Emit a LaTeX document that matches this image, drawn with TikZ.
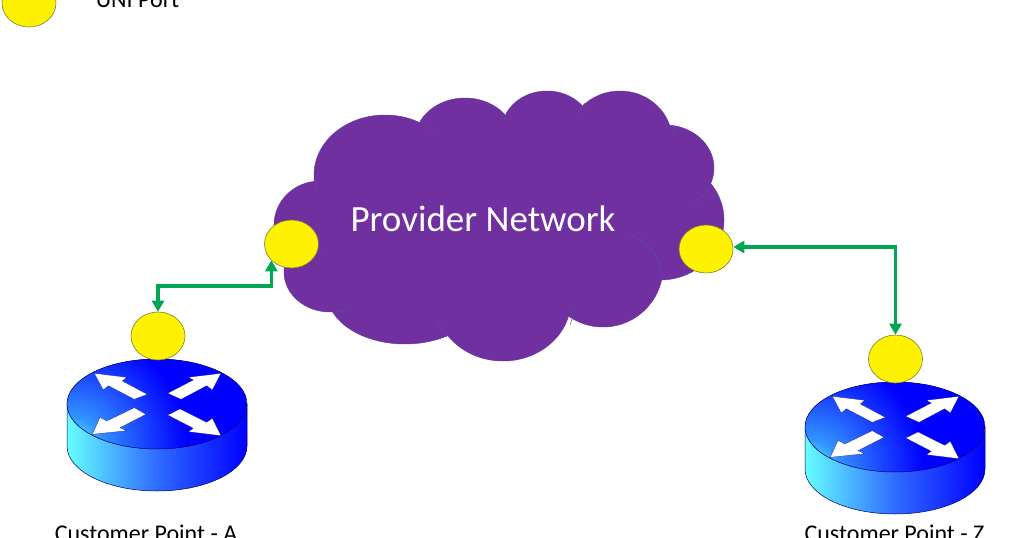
\documentclass[tikz,border=0pt]{standalone}
\usepackage{fontspec}
\setmainfont{Carlito}
\usetikzlibrary{shapes.geometric,arrows.meta}
\definecolor{cloudc}{HTML}{7030A0}
\definecolor{cloudl}{HTML}{5A4FA8}
\definecolor{linkc}{HTML}{00A651}
\definecolor{sidec}{HTML}{66FFFF}
\definecolor{sidem}{HTML}{2F6BFF}
\definecolor{portl}{HTML}{7F7F30}
\definecolor{topa}{HTML}{3394FF}
\definecolor{topb}{HTML}{1A45FF}
\pgfdeclareradialshading{routertop}{\pgfpointorigin}{color(0bp)=(sidec); color(4.5bp)=(topa); color(12bp)=(topb); color(19bp)=(blue); color(50bp)=(blue)}
\tikzset{
 port/.style={ellipse,draw=portl,line width=0.6pt,fill=yellow,minimum width=54pt,minimum height=48pt,inner sep=0pt},
 link/.style={draw=linkc,line width=3.3pt,{Triangle[length=11pt,width=12pt]}-{Triangle[length=11pt,width=12pt]}},
 cloudline/.style={draw=cloudl,line width=0.5pt},
 rimline/.style={draw=black!60!blue,line width=0.5pt},
 whitearrow/.style={fill=white,draw=black!50!blue,line width=0.2pt},
 plabel/.style={font=\fontsize{24}{28}\selectfont,text=black,anchor=base,inner sep=0pt}
}
\newcommand{\routerdraw}{%
 \shade[left color=sidec,right color=blue,middle color=sidem] (-90,0) -- (-90,42) arc[start angle=180,end angle=0,x radius=90,y radius=45] -- (90,0) arc[start angle=0,end angle=180,x radius=90,y radius=45] -- cycle;
 \draw[rimline] (-90,0) -- (-90,42) arc[start angle=180,end angle=0,x radius=90,y radius=45] -- (90,0);
 \begin{scope}
 \clip (0,0) ellipse[x radius=90,y radius=45];
 \fill[blue] (-90,-45) rectangle (90,45);
 \shade[shading=routertop] (-85,40) circle[radius=150];
 \end{scope}
 \draw[rimline] (0,0) ellipse[x radius=90,y radius=45];
 \path[whitearrow] (-62.7,-30.7) -- (-30.3,-26.7) -- (-34.7,-23) -- (-9.7,-9.7) -- (-22.7,-4.7) -- (-48.7,-18.3) -- (-53.7,-14) -- cycle;
 \path[whitearrow] (64,-30.7) -- (55.3,-14) -- (49.7,-18.3) -- (24,-4.7) -- (10.7,-10.7) -- (36.3,-24) -- (31.3,-26.7) -- cycle;
 \path[whitearrow] (-64.7,30.3) -- (-57,13.3) -- (-50.3,17) -- (-22.7,3.7) -- (-11,10.3) -- (-37,23.7) -- (-30.3,26.7) -- cycle;
 \path[whitearrow] (64,31.7) -- (55.3,14.3) -- (49.7,18.3) -- (23,5) -- (10.7,11) -- (36.3,24.3) -- (31.3,27.7) -- cycle;
}
\begin{document}
\begin{tikzpicture}[x=1pt,y=-1pt]
\useasboundingbox (0,0) rectangle (1023,538);
\clip (0,0) rectangle (1023,538);
% cloud
\foreach \cx/\cy/\rx/\ry in {385/175/71/60,465/140/50/42,547/130/45/39,620/140/52/49,665/168/49/43,660/220/64/60,603/267/60/60,503/300/68/61,405/293/78/51,330/272/46/40,320/225/46/44}{
 \draw[cloudline] (\cx,\cy) ellipse[x radius=\rx,y radius=\ry];
}
\foreach \cx/\cy/\rx/\ry in {385/175/71/60,465/140/50/42,547/130/45/39,620/140/52/49,665/168/49/43,660/220/64/60,603/267/60/60,503/300/68/61,405/293/78/51,330/272/46/40,320/225/46/44,490/220/175/95}{
 \fill[cloudc] (\cx,\cy) ellipse[x radius=\rx,y radius=\ry];
}
% seams inside the cloud
\draw[cloudline] (422,122) to[bend left=8] (433,132);
\draw[cloudline] (507,112) to[bend right=5] (504,120);
\draw[cloudline] (585,103) to[bend right=5] (577,115);
\draw[cloudline] (673,125) -- (674,133);
\draw[cloudline] (710,187) to[bend left=10] (693,203);
\draw[cloudline] (315,181) to[bend right=10] (318,190);
\draw[cloudline] (318,253) -- (324,254);
\draw[cloudline] (627,233) to[bend left=30] (663,277);
\draw[cloudline] (574,307) to[bend left=8] (570,325);
\draw[cloudline] (438,322) to[bend right=10] (447,337);
\draw[cloudline] (350,308) to[bend left=8] (335,312);
% routers
\begin{scope}[shift={(157,404)}]\routerdraw\end{scope}
\begin{scope}[shift={(895,427)}]\routerdraw\end{scope}
% ports
\node[port] (portLegend) at (29,3) {};
\node[port] (portLeft) at (291.5,244) {};
\node[port] (portRight) at (706,249) {};
\node[port] (portA) at (158,336) {};
\node[port] (portZ) at (895.5,359) {};
\coordinate (bendA) at (215,286);
\coordinate (bendZ) at (895.5,247);
\draw[link] (portLeft.219) |- (bendA) -| (portA.north);
\draw[link] (portRight.east |- bendZ) -- (bendZ) -- (portZ.north);
% labels
\node[font=\fontsize{37}{42}\selectfont,text=white,anchor=base,inner sep=0pt] (title) at (483,231) {Provider Network};
\node[plabel] (labelA) at (146,541) {Customer Point - A};
\node[plabel] (labelZ) at (894.5,541) {Customer Point - Z};
\node[plabel] (labelUni) at (137.5,7) {UNI Port};
\end{tikzpicture}
\end{document}
